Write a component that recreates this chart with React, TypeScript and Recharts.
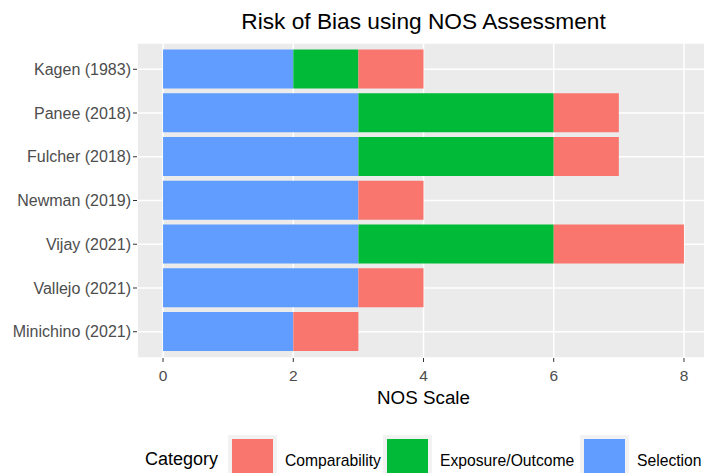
import {
  BarChart,
  Bar,
  XAxis,
  YAxis,
  CartesianGrid,
  Legend,
} from "recharts";

const studies = [
  "Kagen (1983)",
  "Panee (2018)",
  "Fulcher (2018)",
  "Newman (2019)",
  "Vijay (2021)",
  "Vallejo (2021)",
  "Minichino (2021)",
];
const selection = [2, 3, 3, 3, 3, 3, 2];
const exposure = [1, 3, 3, 0, 3, 0, 0];
const comparability = [1, 1, 1, 1, 2, 1, 1];

const majorTicks = [0, 2, 4, 6, 8];
const minorTicks = [1, 3, 5, 7];

const categories = [
  { key: "comparability", name: "Comparability", color: "#F8766D", width: 98 },
  { key: "exposure", name: "Exposure/Outcome", color: "#00BA38", width: 140 },
  { key: "selection", name: "Selection", color: "#619CFF", width: 80 },
];

const data = studies.map((study, i) => ({
  study,
  selection: selection[i],
  exposure: exposure[i],
  comparability: comparability[i],
}));

const FONT = "'Liberation Sans', Arial, sans-serif";

function LegendBox() {
  return (
    <div
      style={{
        height: 55,
        width: 760,
        display: "flex",
        alignItems: "flex-start",
        paddingLeft: 145,
        paddingTop: 17,
        boxSizing: "border-box",
        fontFamily: FONT,
        overflow: "hidden",
      }}
    >
      <span
        style={{ fontSize: 18, color: "#000", marginTop: 14, width: 83, flexShrink: 0 }}
      >
        Category
      </span>
      {categories.map((c) => (
        <div
          key={c.key}
          style={{ display: "flex", alignItems: "flex-start", flexShrink: 0 }}
        >
          <div
            style={{ background: "#F2F2F2", padding: 4, width: 41, height: 41, flexShrink: 0 }}
          >
            <div style={{ background: c.color, width: 41, height: 41 }} />
          </div>
          <span
            style={{
              fontSize: 15.7,
              color: "#000",
              marginLeft: 8,
              marginTop: 17,
              width: c.width,
              flexShrink: 0,
              whiteSpace: "nowrap",
            }}
          >
            {c.name}
          </span>
        </div>
      ))}
    </div>
  );
}

export default function App() {
  return (
    <div
      style={{
        position: "absolute",
        left: 0,
        top: 0,
        width: 704,
        height: 473,
        overflow: "hidden",
        background: "#fff",
        fontFamily: FONT,
      }}
    >
      <div
        style={{
          position: "absolute",
          left: 0,
          top: 8,
          width: 847,
          textAlign: "center",
          fontSize: 22.7,
          color: "#000",
        }}
      >
        Risk of Bias using NOS Assessment
      </div>
      <BarChart
        width={720}
        height={473}
        data={data}
        layout="vertical"
        barCategoryGap="5%"
        margin={{ top: 43, right: 10, left: 0, bottom: 0 }}
      >
        <CartesianGrid
          fill="#EBEBEB"
          fillOpacity={1}
          stroke="#FFFFFF"
          strokeWidth={1.5}
        />
        <CartesianGrid
          xAxisId="minor"
          horizontal={false}
          stroke="#FFFFFF"
          strokeWidth={0.7}
        />
        <XAxis
          type="number"
          domain={[-0.4, 8.4]}
          ticks={majorTicks}
          height={60}
          tick={{ fontSize: 15.5, fill: "#4D4D4D" }}
          tickLine={{ stroke: "#333333" }}
          tickSize={4}
          tickMargin={8}
          axisLine={false}
          label={{
            value: "NOS Scale",
            position: "insideBottom",
            offset: 14,
            fontSize: 18.8,
            fill: "#000",
          }}
        />
        <XAxis
          xAxisId="minor"
          type="number"
          domain={[-0.4, 8.4]}
          ticks={minorTicks}
          hide
        />
        <YAxis
          type="category"
          dataKey="study"
          width={137}
          padding={{ top: 4.4, bottom: 4.4 }}
          tick={{ fontSize: 16, fill: "#4D4D4D" }}
          tickLine={{ stroke: "#333333" }}
          tickSize={4}
          tickMargin={2}
          axisLine={false}
        />
        <Legend
          verticalAlign="bottom"
          align="left"
          height={55}
          content={() => <LegendBox />}
        />
        <Bar
          dataKey="selection"
          name="Selection"
          stackId="a"
          fill="#619CFF"
          isAnimationActive={false}
        />
        <Bar
          dataKey="exposure"
          name="Exposure/Outcome"
          stackId="a"
          fill="#00BA38"
          isAnimationActive={false}
        />
        <Bar
          dataKey="comparability"
          name="Comparability"
          stackId="a"
          fill="#F8766D"
          isAnimationActive={false}
        />
      </BarChart>
    </div>
  );
}
